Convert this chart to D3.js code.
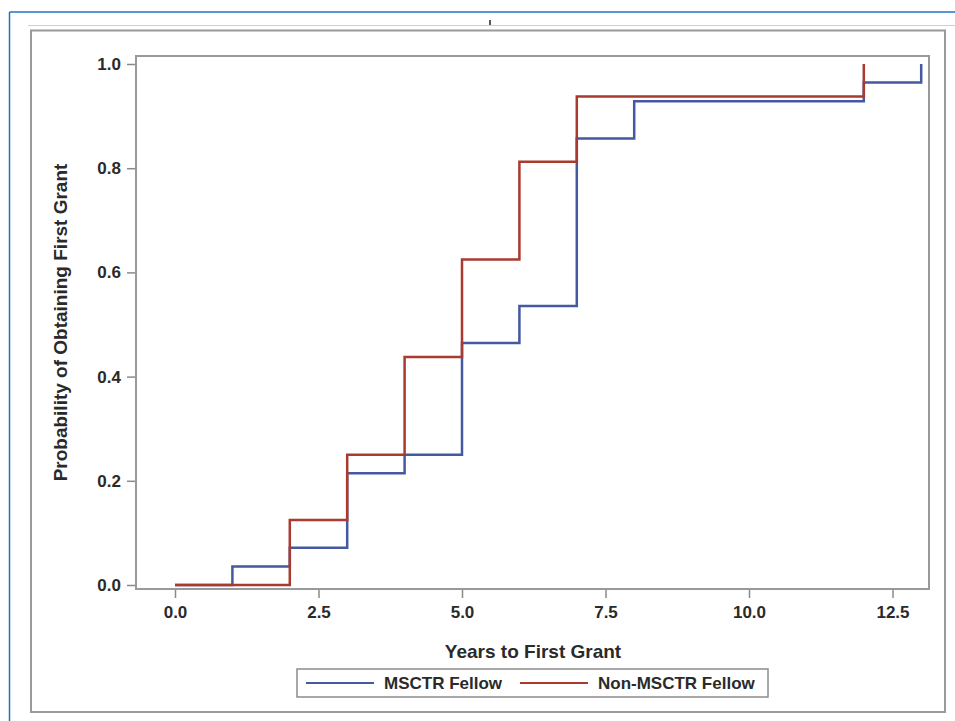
<!DOCTYPE html>
<html>
<head>
<meta charset="utf-8">
<script src="https://cdn.jsdelivr.net/npm/d3@7"></script>
<style>
  body { margin: 0; background: #fff; }
  text { font-family: "Liberation Sans", Arial, sans-serif; fill: #2a2a2a; }
</style>
</head>
<body>
<div class="chart"></div>
<script>
const width = 955
const height = 721

// Kaplan-Meier style step data
const msctrYears = [0, 1, 2, 3, 4, 5, 6, 7, 8, 12, 13]
const msctrProb = [0, 0.0357, 0.0714, 0.2143, 0.25, 0.4643, 0.5357, 0.8571, 0.9286, 0.9643, 1.0]
const nonYears = [0, 2, 3, 4, 5, 6, 7, 12]
const nonProb = [0, 0.125, 0.25, 0.4375, 0.625, 0.8125, 0.9375, 1.0]

const xTicks = [0, 2.5, 5, 7.5, 10, 12.5]
const yTicks = [0, 0.2, 0.4, 0.6, 0.8, 1.0]
const seriesNames = ["MSCTR Fellow", "Non-MSCTR Fellow"]
const seriesColors = ["#4558a2", "#a83a2f"]

const plot = { left: 136, top: 56, right: 929, bottom: 589 }

const svg = d3.select(".chart")
    .append("svg")
    .attr("width", width)
    .attr("height", height)

// page decorations
svg.append("line")
    .attr("x1", 9.5).attr("x2", width).attr("y1", 12).attr("y2", 12)
    .attr("stroke", "#1f73c4").attr("stroke-width", 1.5)
svg.append("line")
    .attr("x1", 9.5).attr("x2", 9.5).attr("y1", 12).attr("y2", height)
    .attr("stroke", "#1f73c4").attr("stroke-width", 1.5)
svg.append("line")
    .attr("x1", 28).attr("x2", width).attr("y1", 25.5).attr("y2", 25.5)
    .attr("stroke", "#cfcfcf").attr("stroke-width", 1)
svg.append("line")
    .attr("x1", 490).attr("x2", 490).attr("y1", 20).attr("y2", 25)
    .attr("stroke", "#222").attr("stroke-width", 1.5)

// outer frame
svg.append("rect")
    .attr("x", 31).attr("y", 30.5)
    .attr("width", 914).attr("height", 681.5)
    .attr("fill", "none")
    .attr("stroke", "#9a9a9a")
    .attr("stroke-width", 2)

const xScale = d3.scaleLinear()
    .domain([0, 12.5])
    .range([175, 892.5])

const yScale = d3.scaleLinear()
    .domain([0, 1])
    .range([585, 64])

const xAxis = d3.axisBottom(xScale)
    .tickValues(xTicks)
    .tickFormat(d3.format(".1f"))
    .tickSize(9)
    .tickSizeOuter(0)

const yAxis = d3.axisLeft(yScale)
    .tickValues(yTicks)
    .tickFormat(d3.format(".1f"))
    .tickSize(9)
    .tickSizeOuter(0)

const gx = svg.append("g")
    .attr("transform", "translate(0," + plot.bottom + ")")
    .call(xAxis)
gx.select(".domain").remove()
gx.selectAll(".tick line").attr("stroke", "#8a8a8a").attr("stroke-width", 1.5)
gx.selectAll(".tick text")
    .attr("y", 17)
    .attr("font-size", 17)
    .attr("font-weight", "bold")
    .attr("fill", "#2a2a2a")

const gy = svg.append("g")
    .attr("transform", "translate(" + plot.left + ",0)")
    .call(yAxis)
gy.select(".domain").remove()
gy.selectAll(".tick line").attr("stroke", "#8a8a8a").attr("stroke-width", 1.5)
gy.selectAll(".tick text")
    .attr("x", -15)
    .attr("font-size", 17)
    .attr("font-weight", "bold")
    .attr("fill", "#2a2a2a")

// plot frame
svg.append("rect")
    .attr("x", plot.left).attr("y", plot.top)
    .attr("width", plot.right - plot.left)
    .attr("height", plot.bottom - plot.top)
    .attr("fill", "none")
    .attr("stroke", "#999")
    .attr("stroke-width", 2)

const stepLine = d3.line()
    .curve(d3.curveStepAfter)
    .x(d => xScale(d[0]))
    .y(d => yScale(d[1]))

const msctr = msctrYears.map((t, i) => [t, msctrProb[i]])
const nonMsctr = nonYears.map((t, i) => [t, nonProb[i]])

svg.append("path")
    .attr("d", stepLine(msctr))
    .attr("fill", "none")
    .attr("stroke", seriesColors[0])
    .attr("stroke-width", 2.5)

svg.append("path")
    .attr("d", stepLine(nonMsctr))
    .attr("fill", "none")
    .attr("stroke", seriesColors[1])
    .attr("stroke-width", 2.5)

// axis titles
svg.append("text")
    .attr("x", 533)
    .attr("y", 658)
    .attr("text-anchor", "middle")
    .attr("font-size", 19)
    .attr("font-weight", "bold")
    .text("Years to First Grant")

svg.append("text")
    .attr("transform", "translate(67," + ((plot.top + plot.bottom) / 2) + ") rotate(-90)")
    .attr("text-anchor", "middle")
    .attr("font-size", 19)
    .attr("font-weight", "bold")
    .text("Probability of Obtaining First Grant")

// legend
const legend = svg.append("g")
legend.append("rect")
    .attr("x", 297).attr("y", 669)
    .attr("width", 471).attr("height", 28)
    .attr("fill", "#fff")
    .attr("stroke", "#8c8c8c")
    .attr("stroke-width", 1.5)

const legendX = [306, 520]
seriesNames.forEach((name, i) => {
    legend.append("line")
        .attr("x1", legendX[i]).attr("x2", legendX[i] + 68)
        .attr("y1", 683).attr("y2", 683)
        .attr("stroke", seriesColors[i])
        .attr("stroke-width", 2)
    legend.append("text")
        .attr("x", legendX[i] + 78)
        .attr("y", 689)
        .attr("font-size", 17)
        .attr("font-weight", "bold")
        .text(name)
})
</script>
</body>
</html>
